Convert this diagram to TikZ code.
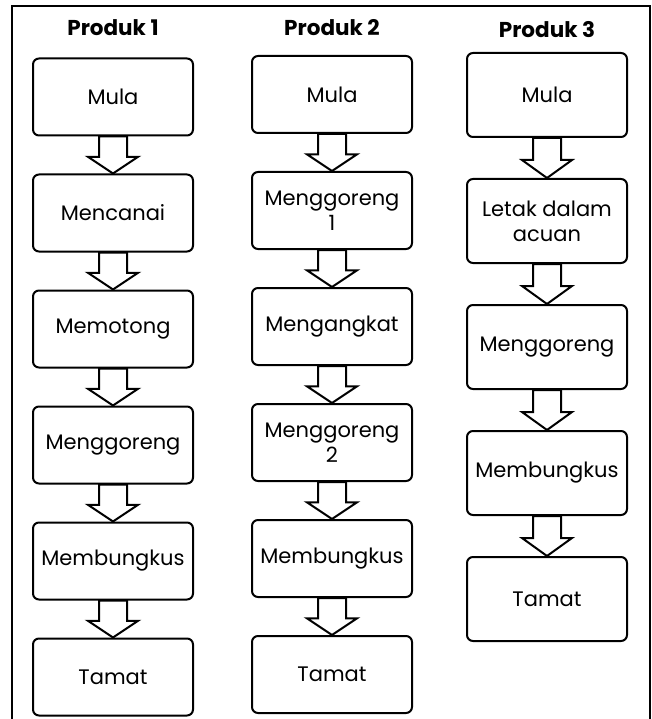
\documentclass[tikz,border=0pt]{standalone}
\usepackage{fontspec}
\setmainfont{Poppins}
\usetikzlibrary{positioning,calc}

% block arrow from the bottom of one box to the top of the next
\newcommand{\flowarrow}[2]{%
  \coordinate (m) at ($(#1.south)!0.55!(#2.north)$);
  \draw[blockarrow] ($(#1.south)+(-14,0)$) -- ($(#1.south)+(14,0)$) -- ($(m)+(14,0)$)
    -- ($(m)+(25,0)$) -- (#2.north) -- ($(m)+(-25,0)$) -- ($(m)+(-14,0)$) -- cycle;}

\begin{document}
\begin{tikzpicture}[x=1pt,y=-1pt,node distance=37pt,
  stepbox/.style={draw,line width=2pt,rounded corners=6pt,minimum width=160pt,
    minimum height=77pt,align=center,inner sep=2pt,font=\fontsize{21}{25}\selectfont},
  tallbox/.style={stepbox,minimum height=84pt},
  head/.style={font=\fontsize{21.5}{25}\selectfont\bfseries},
  blockarrow/.style={line width=2pt,fill=white,line join=miter}]
\useasboundingbox (0,0) rectangle (652,719);
\draw[line width=2.5pt] (12,725) -- (12,6) -- (650,6) -- (650,725);

\node[head] (h1) at (113,28) {Produk 1};
\node[head] (h2) at (332,28) {Produk 2};
\node[head] (h3) at (547,30) {Produk 3};

% Produk 1
\node[stepbox] (a0) at (113,97) {Mula};
\node[stepbox] (a1) [below=of a0] {Mencanai};
\node[stepbox] (a2) [below=of a1] {Memotong};
\node[stepbox] (a3) [below=of a2] {Menggoreng};
\node[stepbox] (a4) [below=of a3] {Membungkus};
\node[stepbox] (a5) [below=of a4] {Tamat};

% Produk 2
\node[stepbox] (b0) at (332,94.5) {Mula};
\node[stepbox] (b1) [below=of b0] {Menggoreng\\1};
\node[stepbox] (b2) [below=of b1] {Mengangkat};
\node[stepbox] (b3) [below=of b2] {Menggoreng\\2};
\node[stepbox] (b4) [below=of b3] {Membungkus};
\node[stepbox] (b5) [below=of b4] {Tamat};

% Produk 3
\node[tallbox] (c0) at (547,95) {Mula};
\node[tallbox] (c1) [below=40pt of c0] {Letak dalam\\acuan};
\node[tallbox] (c2) [below=40pt of c1] {Menggoreng};
\node[tallbox] (c3) [below=40pt of c2] {Membungkus};
\node[tallbox] (c4) [below=40pt of c3] {Tamat};

\foreach \i [count=\j] in {0,...,4}{\flowarrow{a\i}{a\j}}
\foreach \i [count=\j] in {0,...,4}{\flowarrow{b\i}{b\j}}
\foreach \i [count=\j] in {0,...,3}{\flowarrow{c\i}{c\j}}
\end{tikzpicture}
\end{document}
